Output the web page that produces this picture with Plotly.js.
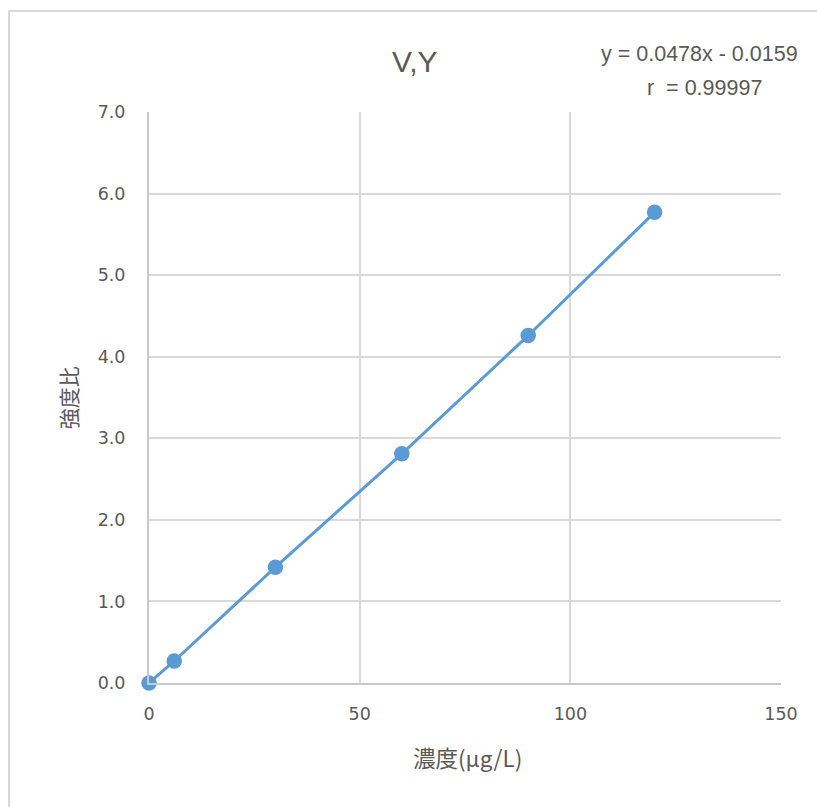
<!DOCTYPE html>
<html>
<head>
<meta charset="utf-8">
<script src="https://cdn.plot.ly/plotly-3.0.1.min.js"></script>
<style>html,body{margin:0;padding:0;background:#fff;}#chart{width:817px;height:807px;}</style>
</head>
<body>
<div id="chart"></div>
<script>
const concentration = [0, 6, 30, 60, 90, 120];
const intensityRatio = [0, 0.27, 1.42, 2.81, 4.26, 5.77];
const xTickVals = [0, 50, 100, 150];
const yTickVals = [0, 1, 2, 3, 4, 5, 6, 7];
const yTickText = ['0.0', '1.0', '2.0', '3.0', '4.0', '5.0', '6.0', '7.0'];
const chartTitle = 'V,Y';
const xTitle = '濃度(μg/L)';
const yTitle = '強度比';
const equationText = 'y = 0.0478x - 0.0159';
const rText = 'r\u00a0\u00a0= 0.99997';

const gray = '#595959';
const tickFont = {family: '"DejaVu Sans", "Open Sans", sans-serif', size: 17.5, color: gray};
const narrow = '"Liberation Sans", sans-serif';
const cjk = '"Noto Sans CJK JP", "Noto Sans", sans-serif';

const trace = {
  x: concentration, y: intensityRatio,
  type: 'scatter', mode: 'lines+markers',
  line: {color: '#5b9bd5', width: 3},
  marker: {color: '#5b9bd5', size: 15.5},
  cliponaxis: false, showlegend: false, hoverinfo: 'x+y'
};

const layout = {
  width: 817, height: 807,
  margin: {l: 149, r: 36, t: 112, b: 124},
  paper_bgcolor: '#ffffff', plot_bgcolor: '#ffffff',
  showlegend: false,
  xaxis: {
    range: [0, 150], tickvals: xTickVals, ticks: '', ticklabelstandoff: 14,
    showgrid: true, gridcolor: '#d9d9d9', gridwidth: 2,
    showline: true, linecolor: '#c8c8c8', linewidth: 2, mirror: false,
    zeroline: false, tickfont: tickFont, fixedrange: true
  },
  yaxis: {
    range: [0, 7], tickvals: yTickVals, ticktext: yTickText, ticks: '', ticklabelstandoff: 18,
    showgrid: true, gridcolor: '#d9d9d9', gridwidth: 2,
    showline: true, linecolor: '#c8c8c8', linewidth: 2,
    zeroline: false, tickfont: tickFont, fixedrange: true
  },
  shapes: [{
    type: 'rect', xref: 'paper', yref: 'paper',
    x0: -0.2215, y0: -1, x1: 2, y1: 1.1769,
    line: {color: '#d9d9d9', width: 2}, fillcolor: 'rgba(0,0,0,0)', layer: 'below'
  }],
  annotations: [
    {text: chartTitle, xref: 'paper', yref: 'paper', x: 0.4209, y: 1.0876,
     showarrow: false, xanchor: 'center', yanchor: 'middle',
     font: {family: narrow, size: 30, color: gray}},
    {text: equationText, xref: 'paper', yref: 'paper', x: 1.030, y: 1.1016,
     showarrow: false, xanchor: 'right', yanchor: 'middle',
     font: {family: narrow, size: 21.5, color: gray}},
    {text: rText, xref: 'paper', yref: 'paper', x: (645 - 149) / 632, y: 1.042,
     showarrow: false, xanchor: 'left', yanchor: 'middle',
     font: {family: narrow, size: 21.5, color: gray}},
    {text: yTitle, xref: 'paper', yref: 'paper', x: -0.128, y: 0.499,
     showarrow: false, xanchor: 'center', yanchor: 'middle', textangle: -90,
     font: {family: cjk, size: 21, color: gray}},
    {text: xTitle, xref: 'paper', yref: 'paper', x: (467 - 149) / 632, y: -0.1296,
     showarrow: false, xanchor: 'center', yanchor: 'middle',
     font: {family: cjk, size: 22.5, color: gray}}
  ]
};

Plotly.newPlot('chart', [trace], layout, {displayModeBar: false, staticPlot: true});
</script>
</body>
</html>
